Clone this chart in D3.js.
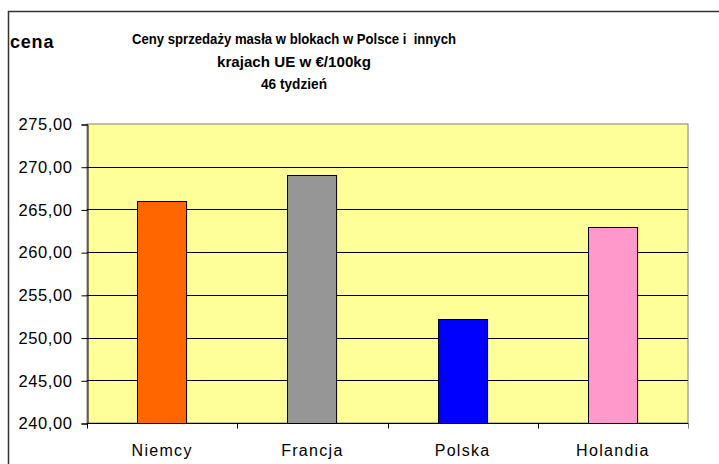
<!DOCTYPE html>
<meta charset="utf-8">
<style>
body { margin: 0; background: #fff; }
text { font-family: "Liberation Sans", Arial, sans-serif; fill: #000; }
.title { white-space: pre; }
</style>
<body>
<script src="https://d3js.org/d3.v7.min.js"></script>
<script>
// data
var countries = ["Niemcy", "Francja", "Polska", "Holandia"];
var prices = [266.0, 269.0, 252.2, 263.0];
var barColors = ["#ff6600", "#969696", "#0000ff", "#ff99cc"];
var yTicks = [240, 245, 250, 255, 260, 265, 270, 275];
var titleLines = ["Ceny sprzedaży masła w blokach w Polsce i  innych", "krajach UE w €/100kg", "46 tydzień"];
var titleWidths = [324, 154, 66];

var W = 719, H = 464;
var plot = {left: 87, right: 688, top: 124, bottom: 423};

var svg = d3.select("body").append("svg")
    .attr("width", W)
    .attr("height", H);

// outer chart frame (runs off the right and bottom edge)
svg.append("rect")
    .attr("x", 8.5).attr("y", 11.5)
    .attr("width", 800).attr("height", 600)
    .attr("fill", "#fff")
    .attr("stroke", "#333")
    .attr("stroke-width", 1.5);

var x = d3.scaleBand()
    .domain(countries)
    .range([plot.left, plot.right])
    .paddingInner(2 / 3)
    .paddingOuter(1 / 3);

var y = d3.scaleLinear()
    .domain([240, 275])
    .range([plot.bottom, plot.top]);

var pl = d3.formatLocale({decimal: ",", thousands: " ", grouping: [3], currency: ["", ""]});
var fmt = pl.format(".2f");

// plot background
svg.append("rect")
    .attr("x", plot.left).attr("y", plot.top)
    .attr("width", plot.right - plot.left)
    .attr("height", plot.bottom - plot.top)
    .attr("fill", "#ffff99")
    .attr("stroke", "#808080")
    .attr("stroke-width", 1);

// gridlines
svg.append("g")
  .selectAll("line")
  .data(yTicks.filter(function(d) { return d > 240 && d < 275; }))
  .enter().append("line")
    .attr("x1", plot.left).attr("x2", plot.right)
    .attr("y1", function(d) { return Math.round(y(d)) + 0.5; })
    .attr("y2", function(d) { return Math.round(y(d)) + 0.5; })
    .attr("stroke", "#000");

// bars
svg.append("g")
  .selectAll("rect")
  .data(prices)
  .enter().append("rect")
    .attr("x", function(d, i) { return Math.round(x(countries[i])) + 0.5; })
    .attr("y", function(d) { return Math.round(y(d)) + 0.5; })
    .attr("width", x.bandwidth() - 1)
    .attr("height", function(d) { return Math.round(y(240)) - Math.round(y(d)); })
    .attr("fill", function(d, i) { return barColors[i]; })
    .attr("stroke", "#000")
    .attr("stroke-width", 1);

// y axis
var yAxis = svg.append("g")
    .attr("transform", "translate(" + (plot.left + 0.5) + ",0.5)")
    .call(d3.axisLeft(y).tickValues(yTicks).tickSize(6).tickPadding(9).tickFormat(fmt));
yAxis.select(".domain").attr("stroke", "#000");
yAxis.selectAll(".tick line").attr("stroke", "#000");
yAxis.selectAll("text")
    .attr("font-size", 16.5)
    .attr("letter-spacing", 0.6)
    .attr("font-family", "Liberation Sans, Arial, sans-serif");

// x axis: ticks sit on the category borders
var xAxis = svg.append("g")
    .attr("transform", "translate(0," + (plot.bottom + 0.5) + ")");
xAxis.append("line")
    .attr("x1", plot.left).attr("x2", plot.right + 0.5)
    .attr("stroke", "#000");
xAxis.selectAll(".xt")
  .data(d3.range(countries.length + 1))
  .enter().append("line")
    .attr("class", "xt")
    .attr("x1", function(i) { return Math.round(plot.left + i * x.step()) + 0.5; })
    .attr("x2", function(i) { return Math.round(plot.left + i * x.step()) + 0.5; })
    .attr("y1", 0).attr("y2", 5)
    .attr("stroke", function(i) { return i === countries.length ? "#808080" : "#000"; });
xAxis.selectAll(".xl")
  .data(countries)
  .enter().append("text")
    .attr("class", "xl")
    .attr("x", function(d) { return x(d) + x.bandwidth() / 2; })
    .attr("y", 32)
    .attr("text-anchor", "middle")
    .attr("font-size", 16)
    .attr("letter-spacing", 1.3)
    .text(function(d) { return d; });

// y label and title
svg.append("text")
    .attr("x", 10).attr("y", 48)
    .attr("font-size", 18)
    .attr("font-weight", "bold")
    .attr("letter-spacing", 0.8)
    .text("cena");

svg.append("g").selectAll("text")
  .data(titleLines)
  .enter().append("text")
    .attr("class", "title")
    .attr("x", 294)
    .attr("y", function(d, i) { return 44 + i * 22.5; })
    .attr("text-anchor", "middle")
    .attr("font-size", 15.5)
    .attr("font-weight", "bold")
    .attr("textLength", function(d, i) { return titleWidths[i]; })
    .attr("lengthAdjust", "spacingAndGlyphs")
    .text(function(d) { return d; });
</script>
</body>
